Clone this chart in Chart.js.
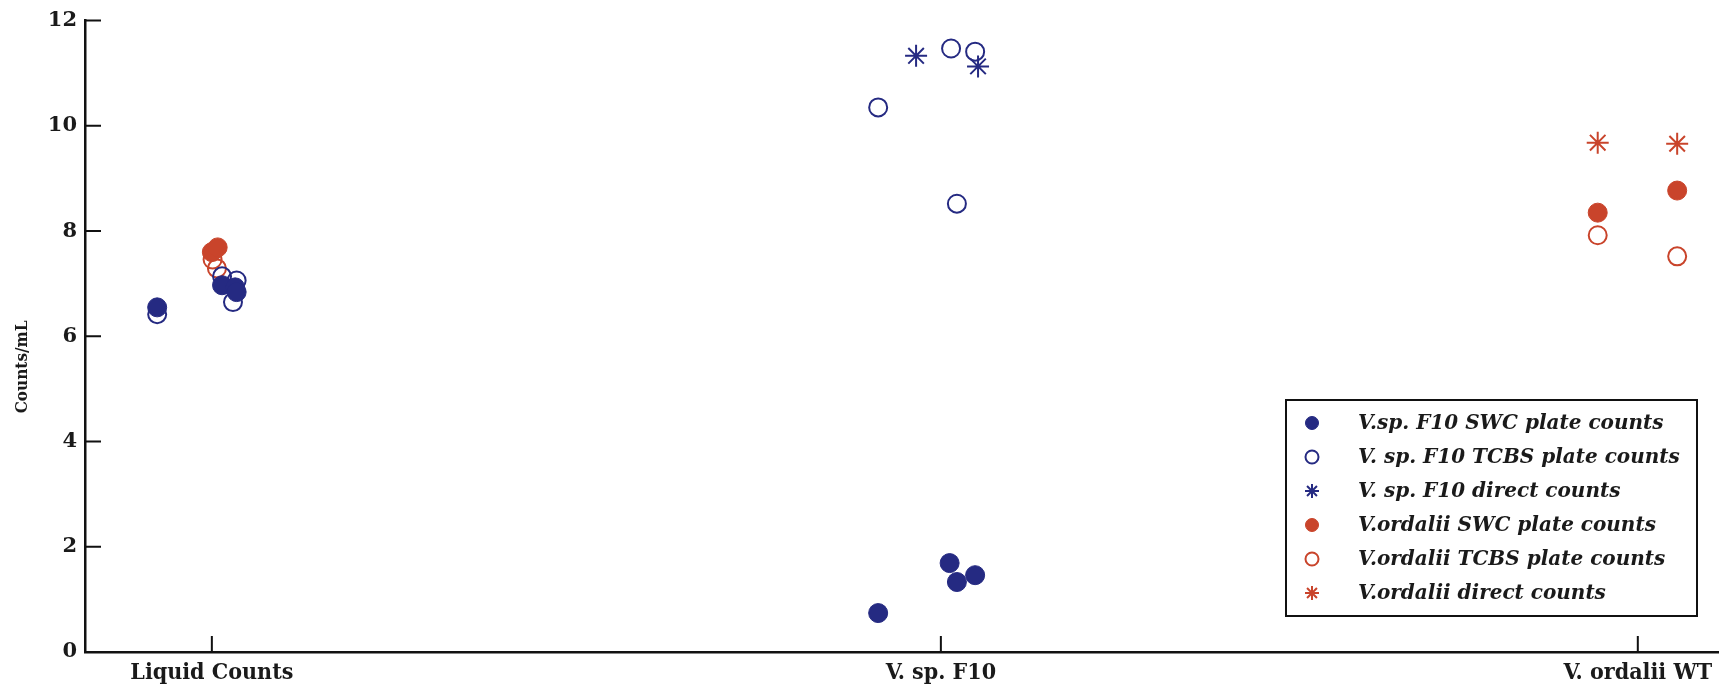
<!doctype html>
<html lang="en">
<head>
    <meta charset="UTF-8" />
    <title>Counts/mL</title>
    <style>
        html, body {
            margin: 0;
            background: #fff;
            overflow: hidden;
        }
        .chart-container {
            position: relative;
            width: 1731px;
            height: 695px;
        }
    </style>
</head>
<body>
    <div class="chart-container">
        <canvas id="countsChart"></canvas>
    </div>

    <script src="https://cdn.jsdelivr.net/npm/chart.js"></script>
    <script>
        // categories and where they sit on the x axis
        const categories = ['Liquid Counts', 'V. sp. F10', 'V. ordalii WT'];
        const categoryX = [1, 2, 2.956];
        const yTicks = [0, 2, 4, 6, 8, 10, 12];

        // V. sp. F10 series
        const spSwcX = [0.925, 1.014, 1.032, 1.034, 1.914, 2.012, 2.022, 2.047];
        const spSwcY = [6.55, 6.97, 6.93, 6.84, 0.74, 1.69, 1.33, 1.46];
        const spTcbsX = [0.925, 1.014, 1.034, 1.029, 1.914, 2.014, 2.047, 2.022];
        const spTcbsY = [6.42, 7.14, 7.06, 6.65, 10.35, 11.47, 11.41, 8.52];
        const spDirectX = [1.966, 2.051];
        const spDirectY = [11.33, 11.13];

        // V. ordalii series
        const ordSwcX = [1.0, 1.008, 2.901, 3.010];
        const ordSwcY = [7.60, 7.69, 8.35, 8.77];
        const ordTcbsX = [1.001, 1.007, 2.901, 3.010];
        const ordTcbsY = [7.46, 7.29, 7.92, 7.52];
        const ordDirectX = [2.901, 3.010];
        const ordDirectY = [9.68, 9.66];

        const seriesLabels = [
            'V.sp. F10 SWC plate counts',
            'V. sp. F10 TCBS plate counts',
            'V. sp. F10 direct counts',
            'V.ordalii SWC plate counts',
            'V.ordalii TCBS plate counts',
            'V.ordalii direct counts'
        ];

        const BLUE = '#252a82';
        const RED = '#c9442b';

        function pts(xs, ys) {
            return xs.map((x, i) => ({ x: x, y: ys[i] }));
        }

        function filled(label, xs, ys, color) {
            return { label, data: pts(xs, ys), pointStyle: 'circle', pointRadius: 9.5,
                backgroundColor: color, borderColor: color, borderWidth: 1 };
        }
        function hollow(label, xs, ys, color) {
            return { label, data: pts(xs, ys), pointStyle: 'circle', pointRadius: 9,
                backgroundColor: 'rgba(255,255,255,0)', borderColor: color, borderWidth: 2 };
        }
        function star(label, xs, ys, color) {
            return { label, data: pts(xs, ys), pointStyle: 'star', pointRadius: 11,
                backgroundColor: color, borderColor: color, borderWidth: 2 };
        }

        const datasets = [
            filled(seriesLabels[0], spSwcX, spSwcY, BLUE),
            hollow(seriesLabels[1], spTcbsX, spTcbsY, BLUE),
            star(seriesLabels[2], spDirectX, spDirectY, BLUE),
            filled(seriesLabels[3], ordSwcX, ordSwcY, RED),
            hollow(seriesLabels[4], ordTcbsX, ordTcbsY, RED),
            star(seriesLabels[5], ordDirectX, ordDirectY, RED)
        ];

        // inward tick marks + boxed legend inside the plot
        const decor = {
            id: 'decor',
            beforeDatasetsDraw(chart) {
                const ctx = chart.ctx;
                const xs = chart.scales.x, ys = chart.scales.y;
                const area = chart.chartArea;
                ctx.save();
                ctx.strokeStyle = '#111';
                ctx.lineWidth = 2;
                ctx.beginPath();
                yTicks.forEach(v => {
                    const py = ys.getPixelForValue(v);
                    ctx.moveTo(area.left, py);
                    ctx.lineTo(area.left + 16, py);
                });
                categoryX.forEach(v => {
                    const px = xs.getPixelForValue(v);
                    ctx.moveTo(px, area.bottom);
                    ctx.lineTo(px, area.bottom - 16);
                });
                ctx.stroke();
                ctx.restore();
            },
            afterDraw(chart) {
                const ctx = chart.ctx;
                const box = { left: 1286, top: 400, width: 411, height: 216 };
                ctx.save();
                ctx.fillStyle = '#fff';
                ctx.fillRect(box.left, box.top, box.width, box.height);
                ctx.strokeStyle = '#111';
                ctx.lineWidth = 2;
                ctx.strokeRect(box.left, box.top, box.width, box.height);
                ctx.font = 'italic bold 20px "DejaVu Serif", serif';
                ctx.textBaseline = 'middle';
                chart.data.datasets.forEach((ds, i) => {
                    const y = box.top + 23 + i * 34;
                    const x = box.left + 26;
                    ctx.fillStyle = ds.backgroundColor;
                    ctx.strokeStyle = ds.borderColor;
                    ctx.lineWidth = ds.borderWidth;
                    ctx.beginPath();
                    if (ds.pointStyle === 'star') {
                        const r = 7;
                        for (let k = 0; k < 4; k++) {
                            const a = k * Math.PI / 4;
                            ctx.moveTo(x - r * Math.cos(a), y - r * Math.sin(a));
                            ctx.lineTo(x + r * Math.cos(a), y + r * Math.sin(a));
                        }
                        ctx.stroke();
                    } else {
                        ctx.arc(x, y, 6.5, 0, Math.PI * 2);
                        ctx.fill();
                        ctx.stroke();
                    }
                    ctx.fillStyle = '#1a1a1a';
                    ctx.fillText(ds.label, box.left + 72, y + 1);
                });
                ctx.restore();
            }
        };

        const ctx = document.getElementById('countsChart').getContext('2d');

        new Chart(ctx, {
            type: 'scatter',
            data: { datasets: datasets },
            options: {
                responsive: true,
                maintainAspectRatio: false,
                animation: false,
                layout: { padding: { top: 20, right: 6, left: 0, bottom: 0 } },
                plugins: {
                    legend: { display: false },
                    tooltip: { enabled: false }
                },
                scales: {
                    x: {
                        type: 'linear',
                        min: 0.826,
                        max: 3.066,
                        afterBuildTicks: scale => {
                            scale.ticks = categoryX.map(v => ({ value: v }));
                        },
                        afterFit: scale => {
                            scale.height = 43;
                        },
                        ticks: {
                            color: '#1a1a1a',
                            padding: 7,
                            maxRotation: 0,
                            autoSkip: false,
                            font: { family: '"DejaVu Serif Condensed", "DejaVu Serif", serif', weight: 'bold', size: 23 },
                            callback: (v) => categories[categoryX.indexOf(v)]
                        },
                        grid: { display: false, drawTicks: false },
                        border: { display: true, color: '#111', width: 2.5 }
                    },
                    y: {
                        min: 0,
                        max: 12,
                        afterFit: scale => { scale.width = 85; },
                        ticks: {
                            stepSize: 2,
                            color: '#1a1a1a',
                            padding: 8,
                            font: { family: '"DejaVu Serif", serif', weight: 'bold', size: 21 }
                        },
                        title: {
                            display: true,
                            text: 'Counts/mL\u2003\u2003\u2003\u2003',
                            color: '#1a1a1a',
                            padding: { top: 12, bottom: 0 },
                            font: { family: '"DejaVu Serif Condensed", "DejaVu Serif", serif', weight: 'bold', size: 17 }
                        },
                        grid: { display: false, drawTicks: false },
                        border: { display: true, color: '#111', width: 2.5 }
                    }
                }
            },
            plugins: [decor]
        });
    </script>
</body>
</html>
